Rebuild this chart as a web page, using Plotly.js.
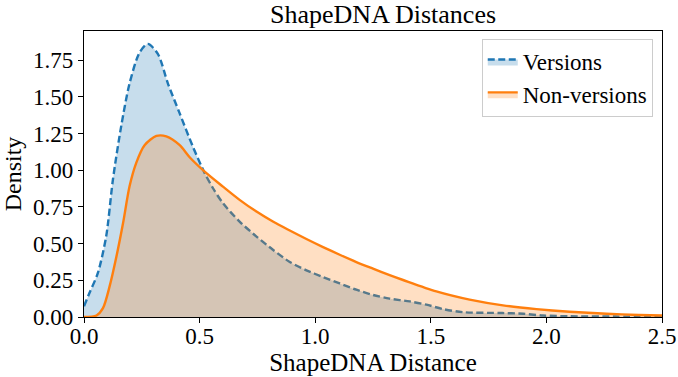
<!DOCTYPE html>
<html>
<head>
<meta charset="utf-8">
<script src="https://cdn.plot.ly/plotly-3.0.1.min.js"></script>
<style>html,body{margin:0;padding:0;background:#fff;}#chart{width:678px;height:377px;}</style>
</head>
<body>
<div id="chart"></div>
<script>
const versionsX = [0, 0.024, 0.06, 0.096, 0.125, 0.161, 0.197, 0.24, 0.276, 0.32, 0.363, 0.413, 0.471, 0.522, 0.558, 0.601, 0.673, 0.746, 0.817, 0.89, 0.962, 1.034, 1.106, 1.178, 1.25, 1.322, 1.409, 1.481, 1.553, 1.64, 1.81, 1.9, 1.985, 2.1, 2.3, 2.5];
const versionsY = [0.073, 0.165, 0.30, 0.55, 0.935, 1.30, 1.59, 1.80, 1.86, 1.79, 1.59, 1.39, 1.16, 0.98, 0.877, 0.775, 0.65, 0.548, 0.458, 0.375, 0.318, 0.272, 0.229, 0.186, 0.150, 0.125, 0.106, 0.084, 0.054, 0.033, 0.027, 0.022, 0.010, 0.005, 0.003, 0.002];
const nonVersionsX = [0, 0.054, 0.082, 0.111, 0.14, 0.169, 0.197, 0.226, 0.262, 0.313, 0.356, 0.414, 0.457, 0.522, 0.601, 0.673, 0.746, 0.817, 0.89, 0.962, 1.034, 1.106, 1.178, 1.25, 1.322, 1.38, 1.524, 1.668, 1.812, 1.957, 2.1, 2.26, 2.4, 2.5];
const nonVersionsY = [0, 0.01, 0.06, 0.21, 0.41, 0.64, 0.89, 1.05, 1.17, 1.233, 1.23, 1.17, 1.088, 0.99, 0.888, 0.798, 0.718, 0.650, 0.589, 0.531, 0.476, 0.424, 0.374, 0.329, 0.285, 0.252, 0.174, 0.118, 0.079, 0.054, 0.036, 0.022, 0.014, 0.01];
const xTicks = [0, 0.5, 1.0, 1.5, 2.0, 2.5];
const xTickText = ['0.0', '0.5', '1.0', '1.5', '2.0', '2.5'];
const yTicks = [0, 0.25, 0.5, 0.75, 1.0, 1.25, 1.5, 1.75];
const yTickText = ['0.00', '0.25', '0.50', '0.75', '1.00', '1.25', '1.50', '1.75'];

const serif = 'Liberation Serif, Times New Roman, serif';
const traces = [
  {x: versionsX, y: versionsY, name: 'Versions', type: 'scatter', mode: 'lines',
   fill: 'tozeroy', fillcolor: 'rgba(31,119,180,0.25)',
   line: {color: '#1f77b4', width: 2.4, dash: '7px,3.5px', shape: 'spline', smoothing: 0.8}},
  {x: nonVersionsX, y: nonVersionsY, name: 'Non-versions', type: 'scatter', mode: 'lines',
   fill: 'tozeroy', fillcolor: 'rgba(255,127,14,0.25)',
   line: {color: '#ff7f0e', width: 2.4, shape: 'spline', smoothing: 0.8}}
];
const layout = {
  width: 678, height: 377,
  margin: {l: 84, r: 16, t: 31, b: 60},
  paper_bgcolor: '#fff', plot_bgcolor: '#fff',
  font: {family: serif, color: '#000', size: 23},
  title: {text: 'ShapeDNA Distances', font: {family: serif, size: 26, color: '#000'}, x: 0.565, xanchor: 'center', yref: 'container', y: 0.962, yanchor: 'middle'},
  xaxis: {range: [0, 2.5], tickvals: xTicks, ticktext: xTickText, ticks: 'outside', ticklen: 5, tickwidth: 1, tickcolor: '#000',
          showline: true, mirror: true, linecolor: '#000', linewidth: 1.2, showgrid: false, zeroline: false, automargin: false,
          ticklabelstandoff: -7,
          tickfont: {family: serif, size: 23, color: '#000'},
          title: {text: 'ShapeDNA Distance', font: {family: serif, size: 25, color: '#000'}, standoff: 2}},
  yaxis: {range: [0, 1.948], tickvals: yTicks, ticktext: yTickText, ticks: 'outside', ticklen: 5, tickwidth: 1, tickcolor: '#000',
          showline: true, mirror: true, linecolor: '#000', linewidth: 1.2, showgrid: false, zeroline: false, automargin: false,
          tickfont: {family: serif, size: 23, color: '#000'},
          title: {text: 'Density', font: {family: serif, size: 24, color: '#000'}, standoff: 4}},
  legend: {x: 0.984, xanchor: 'right', y: 0.972, yanchor: 'top', bgcolor: 'rgba(255,255,255,0.8)',
           bordercolor: '#cccccc', borderwidth: 1, font: {family: serif, size: 23, color: '#000'},
           tracegroupgap: 0, itemwidth: 30},
  showlegend: true
};
Plotly.newPlot('chart', traces, layout, {displayModeBar: false, staticPlot: true});
</script>
</body>
</html>
